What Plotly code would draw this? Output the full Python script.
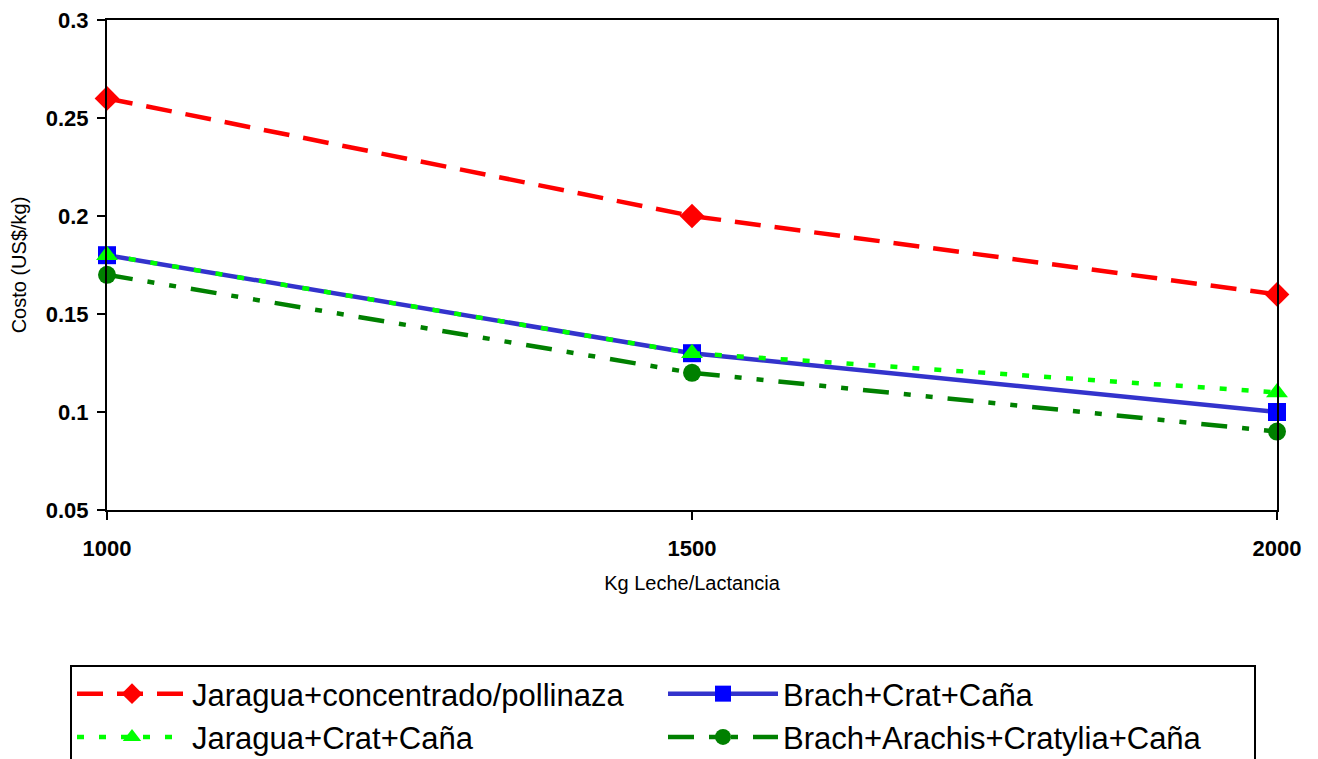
import plotly.graph_objects as go

# Milk yield per lactation (kg) and cost per kg of milk (US$/kg) for each feeding system
kg_leche = [1000, 1500, 2000]
jaragua_concentrado = [0.26, 0.20, 0.16]
brach_crat_cana = [0.18, 0.13, 0.10]
jaragua_crat_cana = [0.18, 0.13, 0.11]
brach_arachis_cratylia_cana = [0.17, 0.12, 0.09]

y_ticks = [0.05, 0.1, 0.15, 0.2, 0.25, 0.3]
x_ticks = [1000, 1500, 2000]

FONT = "Liberation Sans, Arial, sans-serif"

series = [
    dict(name="Jaragua+concentrado/pollinaza", y=jaragua_concentrado,
         line=dict(color="#FF0000", width=4.5, dash="26px,14px"),
         marker=dict(symbol="diamond", size=19, color="#FF0000")),
    dict(name="Brach+Crat+Caña", y=brach_crat_cana,
         line=dict(color="#3333CC", width=4.5, dash="solid"),
         marker=dict(symbol="square", size=18, color="#0000FF")),
    dict(name="Jaragua+Crat+Caña", y=jaragua_crat_cana,
         line=dict(color="#00FF00", width=4.5, dash="7px,15px"),
         marker=dict(symbol="triangle-up", size=19, color="#00FF00")),
    dict(name="Brach+Arachis+Cratylia+Caña", y=brach_arachis_cratylia_cana,
         line=dict(color="#008000", width=4.5, dash="26px,15px,7px,15px,7px,15px"),
         marker=dict(symbol="circle", size=18, color="#008000")),
]

fig = go.Figure()
for s in series:
    fig.add_trace(go.Scatter(
        x=kg_leche, y=s["y"], name=s["name"], mode="lines+markers",
        line=s["line"], marker=s["marker"], cliponaxis=False,
    ))

axis_common = dict(
    showline=True, linecolor="black", linewidth=2, mirror=True,
    ticks="outside", ticklen=8, tickwidth=2, tickcolor="black",
    showgrid=False, zeroline=False,
    tickfont=dict(family=FONT, size=22, color="black", weight="bold"),
)

fig.update_xaxes(
    **axis_common,
    range=[1000, 2000], tickvals=x_ticks, ticktext=[str(v) for v in x_ticks],
    ticklabelstandoff=10,
    title=dict(text="Kg Leche/Lactancia", font=dict(family=FONT, size=20, color="black"),
               standoff=16),
)
fig.update_yaxes(
    **axis_common,
    range=[0.05, 0.3], tickvals=y_ticks, ticktext=[f"{v:g}" for v in y_ticks],
    ticklabelstandoff=4,
    title=dict(text="Costo (US$/kg)", font=dict(family=FONT, size=20, color="black"),
               standoff=14),
)

fig.update_layout(
    width=1318, height=759,
    margin=dict(l=107, r=41, t=20, b=249, autoexpand=False),
    paper_bgcolor="white", plot_bgcolor="white",
    font=dict(family=FONT, color="black"),
    showlegend=True,
    legend=dict(
        orientation="h",
        x=(70 - 107) / 1170, xanchor="left", y=(510 - 665) / 490, yanchor="top",
        bordercolor="black", borderwidth=2, bgcolor="white",
        font=dict(family=FONT, size=31, color="black"),
        entrywidth=466, entrywidthmode="pixels", itemwidth=110,
        traceorder="normal",
    ),
)

fig.write_html("out.html")
